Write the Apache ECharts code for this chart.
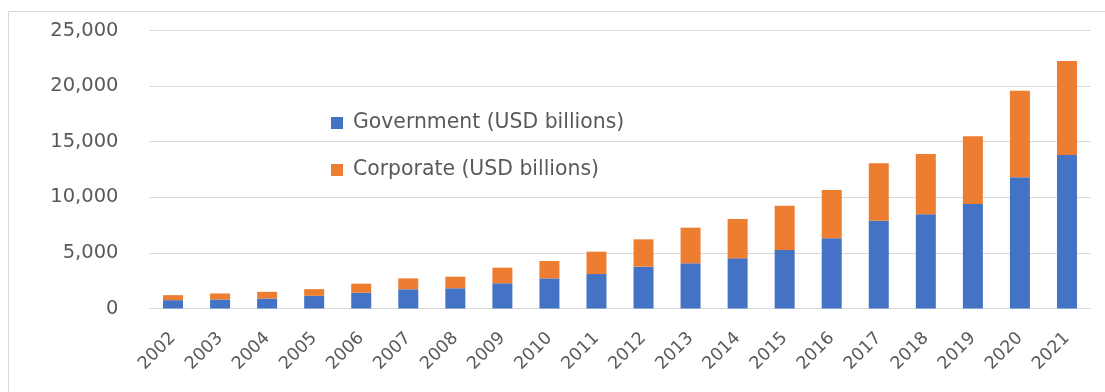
<!DOCTYPE html>
<html>
<head>
<meta charset="utf-8">
<script src="https://cdn.jsdelivr.net/npm/echarts@6/dist/echarts.min.js"></script>
<style>
  html, body { margin: 0; padding: 0; background: #ffffff; }
  #chart { width: 1105px; height: 392px; }
</style>
</head>
<body>
<div id="chart"></div>
<script>
// Issuance by year, USD billions
const years = ['2002','2003','2004','2005','2006','2007','2008','2009','2010','2011',
               '2012','2013','2014','2015','2016','2017','2018','2019','2020','2021'];
const government = [750, 810, 900, 1140, 1420, 1730, 1820, 2270, 2710, 3100,
                    3760, 4060, 4510, 5260, 6310, 7900, 8470, 9400, 11800, 13800];
const corporate = [450, 540, 600, 600, 810, 980, 1040, 1400, 1560, 2010,
                   2460, 3210, 3540, 3990, 4350, 5160, 5430, 6100, 7790, 8450];
const yTicks = [0, 5000, 10000, 15000, 20000, 25000];

const textColor = '#595959';
const font = 'DejaVu Sans';

const chart = echarts.init(document.getElementById('chart'));
chart.setOption({
  backgroundColor: '#ffffff',
  animation: false,
  graphic: [{
    type: 'rect',
    shape: { x: 8.5, y: 11.5, width: 1120, height: 420 },
    style: { fill: 'none', stroke: '#d9d9d9', lineWidth: 1 },
    silent: true
  }],
  grid: { left: 149.5, right: 14.5, top: 30.5, bottom: 83.5 },
  legend: {
    orient: 'vertical',
    left: 331,
    top: 113,
    padding: 0,
    icon: 'rect',
    itemWidth: 12,
    itemHeight: 12,
    itemGap: 27,
    textStyle: { color: textColor, fontFamily: font, fontSize: 20.4, lineHeight: 20, padding: [0, 0, 0, 5] },
    data: ['Government (USD billions)', 'Corporate (USD billions)']
  },
  xAxis: {
    type: 'category',
    data: years,
    axisLine: { lineStyle: { color: '#d9d9d9', width: 1 } },
    axisTick: { show: false },
    axisLabel: { rotate: 45, margin: 27, color: textColor, fontFamily: font, fontSize: 17.5, interval: 0 }
  },
  yAxis: {
    type: 'value',
    min: yTicks[0],
    max: yTicks[yTicks.length - 1],
    interval: yTicks[1] - yTicks[0],
    axisLine: { show: false },
    axisTick: { show: false },
    splitLine: { lineStyle: { color: '#d9d9d9', width: 1 } },
    axisLabel: {
      margin: 31,
      color: textColor,
      fontFamily: font,
      fontSize: 19.5,
      formatter: v => v.toLocaleString('en-US')
    }
  },
  series: [
    {
      name: 'Government (USD billions)',
      type: 'bar',
      stack: 'total',
      barWidth: 20,
      itemStyle: { color: '#4472C4' },
      data: government
    },
    {
      name: 'Corporate (USD billions)',
      type: 'bar',
      stack: 'total',
      barWidth: 20,
      itemStyle: { color: '#ED7D31' },
      data: corporate
    }
  ]
});
</script>
</body>
</html>
